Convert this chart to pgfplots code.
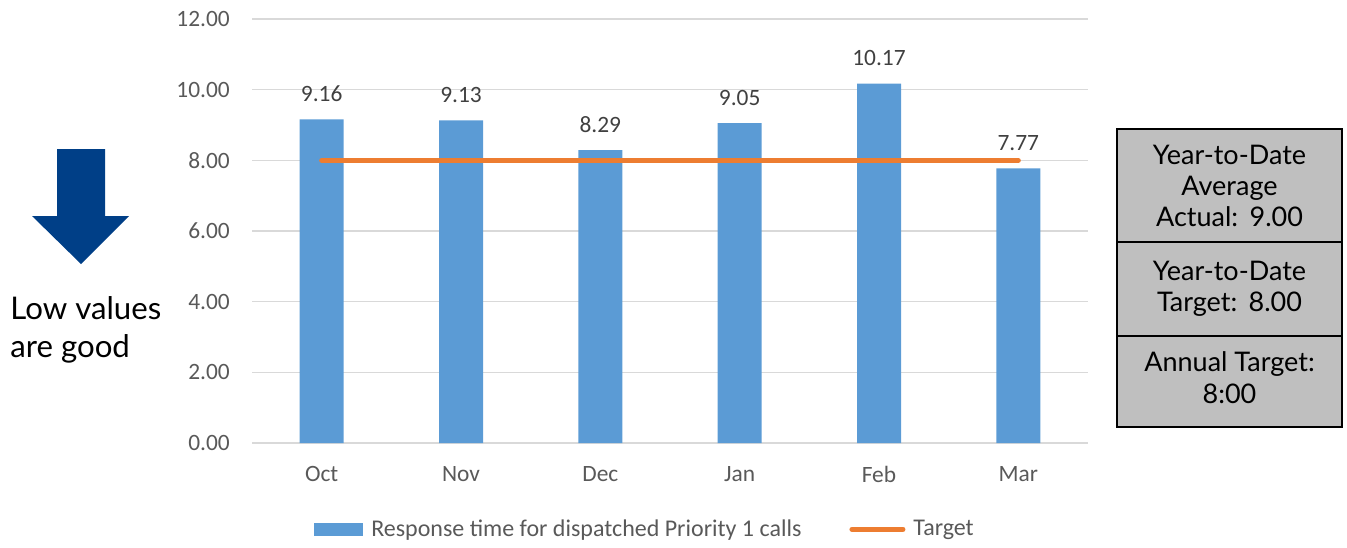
\documentclass[border=0pt]{standalone}
\usepackage{fontspec}
\setmainfont{Carlito}
\newfontfamily\latofont{Lato}
\usepackage{pgfplots}
\pgfplotsset{compat=1.18}

\definecolor{barblue}{HTML}{5B9BD5}
\definecolor{targetorange}{HTML}{ED7D31}
\definecolor{gridgray}{HTML}{D9D9D9}
\definecolor{ticktext}{HTML}{595959}
\definecolor{labeltext}{HTML}{404040}
\definecolor{arrowblue}{HTML}{003F87}
\definecolor{boxgray}{HTML}{BFBFBF}

\begin{document}
\begin{tikzpicture}
% page frame and side annotations, in a 1347 x 540 grid
\begin{scope}[x=0.5pt,y=-0.5pt]
  \useasboundingbox (0,0) rectangle (1347,540);
  % downward arrow
  \fill[arrowblue] (57,149) -- (105,149) -- (105,216) -- (129,216) -- (81,264) -- (32,216) -- (57,216) -- cycle;
  \node[anchor=base west, inner sep=0, font=\latofont\fontsize{15.6}{19}\selectfont] at (10,319) {Low values};
  \node[anchor=base west, inner sep=0, font=\latofont\fontsize{15.6}{19}\selectfont] at (10,357) {are good};
  % summary boxes
  \draw[fill=boxgray, line width=1pt] (1117,129) rectangle (1342,242);
  \draw[fill=boxgray, line width=1pt] (1117,242) rectangle (1342,336);
  \draw[fill=boxgray, line width=1pt] (1117,336) rectangle (1342,427);
  \begin{scope}[every node/.style={anchor=base, inner sep=0, font=\latofont\fontsize{13.5}{16}\selectfont}]
    \node at (1229.5,164) {Year-to-Date};
    \node at (1229.5,195) {Average};
    \node at (1229.5,226.5) {Actual:\ \,9.00};
    \node at (1229.5,280) {Year-to-Date};
    \node at (1229.5,311.5) {Target:\ \,8.00};
    \node at (1229.5,371.5) {Annual Target:};
    \node at (1229.5,403) {8:00};
  \end{scope}
\end{scope}

\begin{axis}[
  at={(126pt,-221.5pt)}, anchor=south west,
  scale only axis, width=418pt, height=212pt,
  xmin=-0.5, xmax=5.5, ymin=0, ymax=12,
  xtick={0,1,2,3,4,5},
  xticklabels={Oct,Nov,Dec,Jan,Feb,Mar},
  ytick={0,2,4,6,8,10,12},
  /pgf/number format/fixed,
  /pgf/number format/fixed zerofill,
  /pgf/number format/precision=2,
  /pgf/number format/assume math mode=true,
  ticklabel style={font=\fontsize{11.7}{14}\selectfont, text=ticktext},
  xticklabel style={yshift=-8.3pt},
  yticklabel style={xshift=-7.6pt},
  axis line style={draw=none},
  major tick length=0pt,
  ymajorgrids,
  major grid style={color=gridgray, line width=0.75pt},
  legend columns=2,
  legend style={at={(0.4713,-0.2035)}, anchor=center, draw=none, fill=none,
    font=\fontsize{12}{14}\selectfont, text=ticktext,
    /tikz/every odd column/.append style={column sep=2pt},
    /tikz/every even column/.append style={column sep=22pt}},
]
\addplot[ybar, bar width=22pt, fill=barblue, draw=none,
  nodes near coords,
  every node near coord/.append style={anchor=center, inner sep=0pt, yshift=12.75pt, font=\fontsize{11.7}{14}\selectfont, text=labeltext},
  legend image code/.code={\fill[barblue] (0pt,-3.25pt) rectangle (24.5pt,3.25pt);}]
  coordinates {(0,9.16) (1,9.13) (2,8.29) (3,9.05) (4,10.17) (5,7.77)};
\addlegendentry{Response time for dispatched Priority 1 calls}
\addplot[color=targetorange, line width=2.5pt, line cap=round, mark=none,
  legend image code/.code={\draw[targetorange, line width=2.5pt, line cap=round] (1.25pt,0pt) -- (26.75pt,0pt);}]
  coordinates {(0,8) (5,8)};
\addlegendentry{Target}
\end{axis}
\end{tikzpicture}
\end{document}
